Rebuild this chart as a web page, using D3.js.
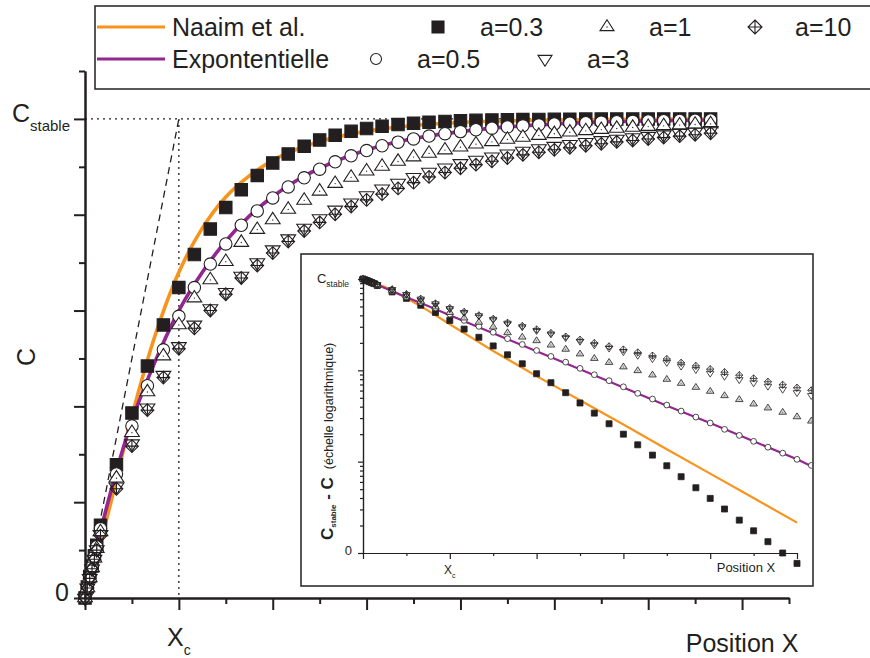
<!DOCTYPE html>
<html>
<head>
<meta charset="utf-8">
<script src="https://cdn.jsdelivr.net/npm/d3@7"></script>
<style>
  body { margin: 0; background: #fff; }
  svg { display: block; font-family: "Liberation Sans", Arial, sans-serif; }
</style>
</head>
<body>
<svg id="chart" width="870" height="658"></svg>
<script>
// Position X (unites de l'axe, Xc = 2) des points simules
const positions = [0, 0.05, 0.1, 0.15, 0.2, 0.25,
  0.33, 0.67, 1, 1.33, 1.67, 2, 2.33, 2.67, 3, 3.33, 3.67, 4, 4.33, 4.67, 5,
  5.33, 5.67, 6, 6.33, 6.67, 7, 7.33, 7.67, 8, 8.33, 8.67, 9, 9.33, 9.67, 10,
  10.33, 10.67, 11, 11.33, 11.67, 12, 12.33, 12.67, 13, 13.33];

const deficitA03 = [1, .977, .955, .933, .912, .89,
  .848, .722, .614, .516, .430, .352,
  .283, .230, .185, .148, .118, .0918, .0732, .0569, .0439, .0340, .0260, .0200,
  .0153, .0118, .00902, .00684, .00518, .00396, .00303, .00229, .00175, .00133, .00100, .000769,
  .00059, .00045, .00034, .00026, .0002, .00015, .00012, .00009, .00007, .00005];
const deficitA05 = [1, .978, .956, .935, .914, .893,
  .855, .741, .641, .557, .482, .412,
  .352, .303, .261, .222, .192, .165, .142, .123, .105, .0895, .0770, .0660,
  .0560, .0485, .0417, .0358, .0308, .0265, .0226, .0194, .0167, .0144, .0124, .0106,
  .0091, .0078, .0067, .0058, .0050, .0043, .0037, .0031, .0027, .0023];
const deficitA1 = [1, .979, .958, .937, .917, .897,
  .862, .75, .655, .57, .495, .43,
  .374, .336, .298, .258, .231, .211, .189, .170, .151, .135, .122, .109,
  .0991, .0889, .0797, .0720, .0651, .0589, .0528, .0478, .0428, .0387, .0347, .0310,
  .0278, .0249, .0223, .0200, .0179, .0160, .0144, .0129, .0116, .0104];
const deficitA3 = [1, .979, .959, .939, .919, .899,
  .867, .768, .678, .603, .535, .475,
  .43, .396, .362, .328, .300, .273, .250, .228, .208, .190, .175, .160,
  .146, .134, .122, .111, .102, .093, .086, .079, .073, .067, .062, .057,
  .053, .049, .045, .042, .039, .036, .033, .030, .027, .024];
const deficitA10 = [1, .979, .959, .939, .919, .9,
  .87, .772, .683, .608, .54, .48,
  .437, .40, .366, .332, .306, .280, .256, .234, .216, .199, .183, .169,
  .157, .145, .133, .121, .112, .103, .0955, .0885, .0815, .0750, .0695, .0645,
  .0604, .056, .052, .048, .045, .042, .039, .036, .033, .030];

// courbes
const naaimX = [0, 0.5, 1, 1.5, 2, 2.5, 3, 3.5, 4, 4.5, 5, 6, 7, 8, 9, 10, 11, 12, 13.4];
const naaimDeficit = [1, .82, .62, .45, .32, .228, .163, .119, .0865, .0638, .047, .0255, .0137, .0074, .004, .00215, .0012, .0006, .0003];
const expoX = [0, 0.5, 1, 1.5, 2, 2.5, 3, 3.5, 4, 4.5, 5, 6, 7, 8, 9, 10, 10.3, 11, 12, 13.4];
const expoDeficit = [1, .796, .63, .505, .40, .32, .255, .203, .162, .129, .103, .065, .041, .0265, .0167, .0106, .0091, .0066, .0042, .0022];

const cStable = 10;
const xC = 2;
const xTicks = d3.range(0, 16);
const yTicks = d3.range(0, 12);
const insetXTicks = d3.range(0, 11);

const orange = "#f7941d";
const purple = "#93278f";
const ink = "#231f20";

const svg = d3.select("#chart");

// marqueurs
function markerPath(type, s) {
  if (type === "square") return `M${-s},${-s}h${2 * s}v${2 * s}h${-2 * s}Z`;
  if (type === "circle") return `M${s},0A${s},${s} 0 1,1 ${-s},0A${s},${s} 0 1,1 ${s},0Z`;
  const h = s * 1.55;
  if (type === "up") return `M0,${-h * 2 / 3}L${s},${h / 3}L${-s},${h / 3}Z`;
  if (type === "down") return `M0,${h * 2 / 3}L${s},${-h / 3}L${-s},${-h / 3}Z`;
  return `M0,${-s}L${s},0L0,${s}L${-s},0ZM0,${-s}V${s}M${-s},0H${s}`;
}

const series = [
  { name: "a=0.3", type: "square", values: deficitA03 },
  { name: "a=0.5", type: "circle", values: deficitA05 },
  { name: "a=1", type: "up", values: deficitA1 },
  { name: "a=3", type: "down", values: deficitA3 },
  { name: "a=10", type: "diamond", values: deficitA10 }
];
series.forEach(s => s.points = positions.map((p, i) => ({ x: p, r: s.values[i] })));

const curves = [
  { name: "Naaim et al.", color: orange, points: naaimX.map((p, i) => ({ x: p, r: naaimDeficit[i] })) },
  { name: "Expontentielle", color: purple, points: expoX.map((p, i) => ({ x: p, r: expoDeficit[i] })) }
];

const mainSize = { square: 6.2, circle: 6.2, up: 7.4, down: 7.4, diamond: 6.4 };
const insetSize = { square: 3, circle: 2.9, up: 3.8, down: 3.8, diamond: 3.6 };

function drawMarkers(g, s, px, py, size, sw, triFill) {
  const fill = s.type === "square" ? ink : (s.type === "circle" ? "#fff" : (s.type === "up" ? triFill : "none"));
  const sel = g.append("g").selectAll("g").data(s.points).join("g")
    .attr("transform", d => `translate(${px(d)},${py(d)})`);
  sel.append("path")
    .attr("d", markerPath(s.type, size))
    .attr("fill", fill)
    .attr("stroke", ink)
    .attr("stroke-width", sw);
  if (s.type === "up") {
    sel.append("circle").attr("r", sw * 0.6).attr("fill", ink);
  }
}

// ---------- graphe principal ----------
const x = d3.scaleLinear().domain([0, 15]).range([85, 789]);
const y = d3.scaleLinear().domain([0, 11]).range([598, 71]);
const mainC = d => y(cStable * (1 - d.r));

const main = svg.append("g");

main.append("line")
  .attr("x1", x(0)).attr("x2", x(13.5)).attr("y1", y(cStable)).attr("y2", y(cStable))
  .attr("stroke", ink).attr("stroke-width", 1.3).attr("stroke-dasharray", "2,4");
main.append("line")
  .attr("x1", x(xC)).attr("x2", x(xC)).attr("y1", y(cStable)).attr("y2", y(0))
  .attr("stroke", ink).attr("stroke-width", 1.3).attr("stroke-dasharray", "2,4");
main.append("line")
  .attr("x1", x(0)).attr("x2", x(xC)).attr("y1", y(0)).attr("y2", y(cStable))
  .attr("stroke", ink).attr("stroke-width", 1.3).attr("stroke-dasharray", "7,5");

const mainLine = d3.line().x(d => x(d.x)).y(mainC).curve(d3.curveCatmullRom.alpha(0.5));
curves.forEach(c => {
  main.append("path").attr("d", mainLine(c.points))
    .attr("fill", "none").attr("stroke", c.color).attr("stroke-width", 3.6);
});

series.forEach(s => drawMarkers(main, s, d => x(d.x), mainC, mainSize[s.type], 1.1, "#fff"));

// axes
const xMajor = d3.axisBottom(x).tickValues(xTicks.filter(d => d % 2 === 0)).tickSize(12).tickFormat("").tickSizeOuter(0);
const xMinor = d3.axisBottom(x).tickValues(xTicks.filter(d => d % 2 === 1)).tickSize(6).tickFormat("").tickSizeOuter(0);
const yMajor = d3.axisLeft(y).tickValues(yTicks.filter(d => d % 2 === 0)).tickSize(11).tickFormat("").tickSizeOuter(0);
const yMinor = d3.axisLeft(y).tickValues(yTicks.filter(d => d % 2 === 1)).tickSize(6).tickFormat("").tickSizeOuter(0);

[[xMajor, "x"], [xMinor, "x"], [yMajor, "y"], [yMinor, "y"]].forEach(([ax, dir]) => {
  const g = main.append("g")
    .attr("transform", dir === "x" ? `translate(0,${y(0)})` : `translate(${x(0)},0)`)
    .call(ax);
  g.selectAll("path, line").attr("stroke", ink).attr("stroke-width", 2);
});

main.append("text").attr("x", 69).attr("y", y(0) + 3).attr("text-anchor", "end")
  .attr("font-size", 25).attr("fill", ink).text("0");
const cs = main.append("text").attr("x", 70).attr("y", y(cStable) + 3).attr("text-anchor", "end").attr("fill", ink);
cs.append("tspan").attr("font-size", 25).text("C");
cs.append("tspan").attr("font-size", 15).attr("dy", 9).text("stable");

const xcLab = main.append("text").attr("x", x(xC)).attr("y", 646).attr("text-anchor", "middle").attr("fill", ink);
xcLab.append("tspan").attr("font-size", 25).text("X");
xcLab.append("tspan").attr("font-size", 14).attr("dy", 9).text("c");
main.append("text").attr("x", x(14)).attr("y", 652).attr("text-anchor", "middle")
  .attr("font-size", 25).attr("fill", ink).text("Position X");
main.append("text").attr("transform", "translate(35,357) rotate(-90)").attr("text-anchor", "middle")
  .attr("font-size", 25).attr("fill", ink).text("C");

// ---------- encart (echelle logarithmique) ----------
const ix = d3.scaleLinear().domain([0, 10]).range([363, 797]);
const iy = d3.scaleLog().domain([0.001, 1]).range([553, 279]);
const inset = svg.append("g");

inset.append("rect").attr("x", 301).attr("y", 254).attr("width", 512).attr("height", 332)
  .attr("fill", "#fff").attr("stroke", ink).attr("stroke-width", 1.5);
svg.append("clipPath").attr("id", "insetClip").append("rect")
  .attr("x", 302).attr("y", 255).attr("width", 510).attr("height", 330);
const plot = inset.append("g").attr("clip-path", "url(#insetClip)");

const insetLine = d3.line().x(d => ix(d.x)).y(d => iy(d.r));
curves.forEach(c => {
  plot.append("path").attr("d", insetLine(c.points.filter(d => d.x <= 10.3)))
    .attr("fill", "none").attr("stroke", c.color).attr("stroke-width", 2.2);
});
series.forEach(s => {
  const sub = { type: s.type, points: s.points.filter(d => d.x <= 10.34 && d.r >= 0.0007) };
  drawMarkers(plot, sub, d => ix(d.x), d => iy(d.r), insetSize[s.type], 0.8, "#d4d4d4");
});

const ixMajor = d3.axisBottom(ix).tickValues(insetXTicks.filter(d => d % 2 === 0)).tickSize(6).tickFormat("").tickSizeOuter(0);
const ixMinor = d3.axisBottom(ix).tickValues(insetXTicks.filter(d => d % 2 === 1)).tickSize(3).tickFormat("").tickSizeOuter(0);
const decades = [0.001, 0.01, 0.1, 1];
const minorLog = [];
decades.slice(0, 3).forEach(d => d3.range(2, 10).forEach(k => minorLog.push(d * k)));
const iyMajor = d3.axisLeft(iy).tickValues(decades).tickSize(5).tickFormat("").tickSizeOuter(0);
const iyMinor = d3.axisLeft(iy).tickValues(minorLog).tickSize(3).tickFormat("").tickSizeOuter(0);

[[ixMajor, "x"], [ixMinor, "x"], [iyMajor, "y"], [iyMinor, "y"]].forEach(([ax, dir]) => {
  const g = inset.append("g")
    .attr("transform", dir === "x" ? `translate(0,${iy(0.001)})` : `translate(${ix(0)},0)`)
    .call(ax);
  g.selectAll("path, line").attr("stroke", ink).attr("stroke-width", 1.2);
});

const ics = inset.append("text").attr("x", 349).attr("y", 283).attr("text-anchor", "end").attr("fill", ink);
ics.append("tspan").attr("font-size", 13).text("C");
ics.append("tspan").attr("font-size", 8.5).attr("dy", 4).text("stable");
inset.append("text").attr("x", 352).attr("y", 555).attr("text-anchor", "end")
  .attr("font-size", 13).attr("fill", ink).text("0");
const ixc = inset.append("text").attr("x", ix(xC)).attr("y", 574).attr("text-anchor", "middle").attr("fill", ink);
ixc.append("tspan").attr("font-size", 12).text("X");
ixc.append("tspan").attr("font-size", 7).attr("dy", 4).text("c");
inset.append("text").attr("x", 746).attr("y", 572).attr("text-anchor", "middle")
  .attr("font-size", 13).attr("fill", ink).text("Position X");

const iyt = inset.append("text").attr("transform", "translate(333,540) rotate(-90)").attr("fill", ink);
iyt.append("tspan").attr("font-size", 17).attr("font-weight", "bold").text("C");
iyt.append("tspan").attr("font-size", 8).attr("font-weight", "bold").attr("dy", 3).text("stable");
iyt.append("tspan").attr("font-size", 17).attr("font-weight", "bold").attr("dy", -3).text(" - C");
iyt.append("tspan").attr("font-size", 12.5).attr("dx", 8).text("(échelle logarithmique)");

// ---------- legende ----------
const legend = svg.append("g");
legend.append("rect").attr("x", 95).attr("y", 6).attr("width", 800).attr("height", 83)
  .attr("fill", "#fff").attr("stroke", ink).attr("stroke-width", 1.5);

const rows = [27, 59];
curves.forEach((c, i) => {
  legend.append("line").attr("x1", 97).attr("x2", 165).attr("y1", rows[i]).attr("y2", rows[i])
    .attr("stroke", c.color).attr("stroke-width", 3);
  legend.append("text").attr("x", 172).attr("y", rows[i] + 9).attr("font-size", 25)
    .attr("fill", ink).text(c.name);
});
const legendPos = [[438, 0, 480], [376, 1, 417], [607, 0, 649], [545, 1, 587], [755, 0, 795]];
series.forEach((s, i) => {
  const [mx, row, tx] = legendPos[i];
  const g = legend.append("g").attr("transform", `translate(${mx},${rows[row]})`);
  g.append("path").attr("d", markerPath(s.type, s.type === "square" ? 6 : (s.type === "circle" ? 5.5 : 7)))
    .attr("fill", s.type === "square" ? ink : "#fff").attr("stroke", ink).attr("stroke-width", 1.1);
  if (s.type === "up") g.append("circle").attr("r", 0.7).attr("fill", ink);
  legend.append("text").attr("x", tx).attr("y", rows[row] + 9).attr("font-size", 25)
    .attr("fill", ink).text(s.name);
});
</script>
</body>
</html>
